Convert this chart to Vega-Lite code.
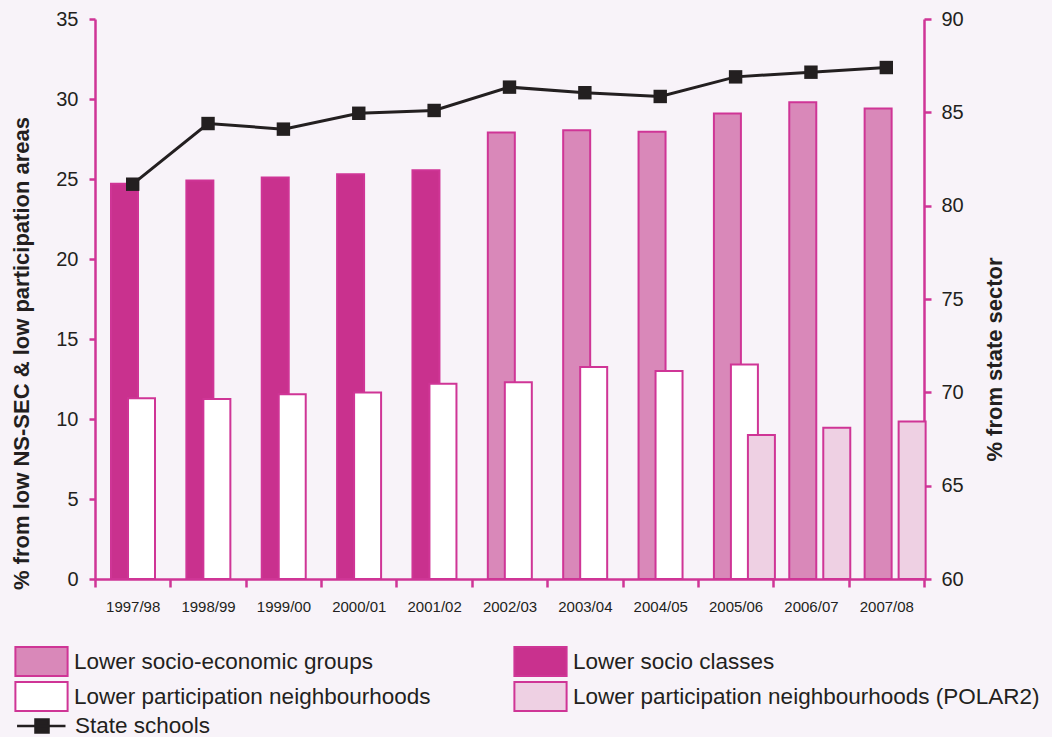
{
  "$schema": "https://vega.github.io/schema/vega-lite/v6.json",
  "autosize": "none",
  "width": 829,
  "height": 560,
  "padding": {"left": 95, "top": 19, "right": 128, "bottom": 158},
  "background": "#f8f3f9",
  "config": {
    "view": {"stroke": null},
    "font": "Liberation Sans",
    "axis": {"grid": false, "domainColor": "#cf3596", "domainWidth": 2.5, "tickColor": "#cf3596", "tickWidth": 2.5, "labelColor": "#231f20", "titleColor": "#231f20", "labelFont": "Liberation Sans", "titleFont": "Liberation Sans"},
    "legend": {"labelFont": "Liberation Sans", "labelColor": "#231f20", "padding": 0}
  },
  "datasets": {
    "bars": [
      {"year": "1997/98", "bar_series": "Lower socio classes", "measure": "NS-SEC", "value": 24.7},
      {"year": "1998/99", "bar_series": "Lower socio classes", "measure": "NS-SEC", "value": 24.9},
      {"year": "1999/00", "bar_series": "Lower socio classes", "measure": "NS-SEC", "value": 25.1},
      {"year": "2000/01", "bar_series": "Lower socio classes", "measure": "NS-SEC", "value": 25.3},
      {"year": "2001/02", "bar_series": "Lower socio classes", "measure": "NS-SEC", "value": 25.55},
      {"year": "2002/03", "bar_series": "Lower socio-economic groups", "measure": "NS-SEC", "value": 27.9},
      {"year": "2003/04", "bar_series": "Lower socio-economic groups", "measure": "NS-SEC", "value": 28.05},
      {"year": "2004/05", "bar_series": "Lower socio-economic groups", "measure": "NS-SEC", "value": 27.95},
      {"year": "2005/06", "bar_series": "Lower socio-economic groups", "measure": "NS-SEC", "value": 29.1},
      {"year": "2006/07", "bar_series": "Lower socio-economic groups", "measure": "NS-SEC", "value": 29.8},
      {"year": "2007/08", "bar_series": "Lower socio-economic groups", "measure": "NS-SEC", "value": 29.4},
      {"year": "1997/98", "bar_series": "Lower participation neighbourhoods", "measure": "LPN", "value": 11.3},
      {"year": "1998/99", "bar_series": "Lower participation neighbourhoods", "measure": "LPN", "value": 11.25},
      {"year": "1999/00", "bar_series": "Lower participation neighbourhoods", "measure": "LPN", "value": 11.55},
      {"year": "2000/01", "bar_series": "Lower participation neighbourhoods", "measure": "LPN", "value": 11.65},
      {"year": "2001/02", "bar_series": "Lower participation neighbourhoods", "measure": "LPN", "value": 12.2},
      {"year": "2002/03", "bar_series": "Lower participation neighbourhoods", "measure": "LPN", "value": 12.3},
      {"year": "2003/04", "bar_series": "Lower participation neighbourhoods", "measure": "LPN", "value": 13.25},
      {"year": "2004/05", "bar_series": "Lower participation neighbourhoods", "measure": "LPN", "value": 13.0},
      {"year": "2005/06", "bar_series": "Lower participation neighbourhoods", "measure": "LPN", "value": 13.4},
      {"year": "2005/06", "bar_series": "Lower participation neighbourhoods (POLAR2)", "measure": "POLAR2", "value": 9.0},
      {"year": "2006/07", "bar_series": "Lower participation neighbourhoods (POLAR2)", "measure": "POLAR2", "value": 9.45},
      {"year": "2007/08", "bar_series": "Lower participation neighbourhoods (POLAR2)", "measure": "POLAR2", "value": 9.85}
    ],
    "state": [
      {"year": "1997/98", "line_series": "State schools", "value": 81.15},
      {"year": "1998/99", "line_series": "State schools", "value": 84.4},
      {"year": "1999/00", "line_series": "State schools", "value": 84.1},
      {"year": "2000/01", "line_series": "State schools", "value": 84.95},
      {"year": "2001/02", "line_series": "State schools", "value": 85.1},
      {"year": "2002/03", "line_series": "State schools", "value": 86.35},
      {"year": "2003/04", "line_series": "State schools", "value": 86.05},
      {"year": "2004/05", "line_series": "State schools", "value": 85.85},
      {"year": "2005/06", "line_series": "State schools", "value": 86.9},
      {"year": "2006/07", "line_series": "State schools", "value": 87.15},
      {"year": "2007/08", "line_series": "State schools", "value": 87.4}
    ]
  },
  "encoding": {
    "x": {
      "field": "year", "type": "nominal", "sort": null,
      "scale": {"paddingInner": 0, "paddingOuter": 0},
      "axis": {"title": null, "labelAngle": 0, "labelFontSize": 15, "tickBand": "extent", "tickSize": 8, "labelPadding": 12, "domainWidth": 2.5}
    }
  },
  "layer": [
    {
      "data": {"name": "bars"},
      "mark": {"type": "bar", "width": 27, "stroke": "#cf3596", "strokeWidth": 2},
      "encoding": {
        "xOffset": {"field": "measure", "type": "nominal", "scale": {"domain": ["NS-SEC", "LPN", "POLAR2"], "range": [21, 72], "paddingInner": 0, "paddingOuter": 0}},
        "y": {
          "field": "value", "type": "quantitative",
          "scale": {"domain": [0, 35], "nice": false, "zero": true},
          "axis": {"orient": "left", "values": [0, 5, 10, 15, 20, 25, 30, 35], "title": "% from low NS-SEC & low participation areas", "titleFontSize": 22, "titleFontWeight": "bold", "labelFontSize": 20, "tickSize": 6, "labelPadding": 11, "titleX": -62, "titleY": 334, "titleAngle": -90}
        },
        "fill": {
          "field": "bar_series", "type": "nominal",
          "scale": {"domain": ["Lower socio-economic groups", "Lower participation neighbourhoods", "Lower socio classes", "Lower participation neighbourhoods (POLAR2)"], "range": ["#d988b9", "#ffffff", "#c9318e", "#eed0e3"]},
          "legend": {"title": null, "orient": "none", "legendX": -69, "legendY": 627, "columns": 2, "columnPadding": 79, "rowPadding": -2, "symbolType": "M-1.8,-1H1.8V1H-1.8Z", "symbolSize": 841, "symbolStrokeColor": "#cf3596", "symbolStrokeWidth": 2, "symbolOpacity": 1, "labelFontSize": 22.5, "labelOffset": 17, "labelLimit": 600}
        }
      }
    },
    {
      "data": {"name": "state"},
      "layer": [
        {
          "mark": {"type": "line", "strokeWidth": 3},
          "encoding": {
            "y": {
              "field": "value", "type": "quantitative",
              "scale": {"domain": [60, 90], "nice": false, "zero": false},
              "axis": {"orient": "right", "values": [60, 65, 70, 75, 80, 85, 90], "title": "% from state sector", "titleFontSize": 22, "titleFontWeight": "bold", "labelFontSize": 20, "tickSize": 7, "labelPadding": 10, "titleAngle": -90, "titleX": 82, "titleY": 340}
            },
            "stroke": {
              "field": "line_series", "type": "nominal",
              "scale": {"domain": ["State schools"], "range": ["#231f20"]},
              "legend": {"title": null, "orient": "none", "legendX": -69, "legendY": 691, "symbolType": "M-1.72,0H1.62M-0.45,-0.45H0.45V0.45H-0.45Z", "symbolSize": 841, "symbolFillColor": "#231f20", "symbolStrokeWidth": 2.5, "labelFontSize": 22.5, "labelOffset": 17}
            }
          }
        },
        {
          "mark": {"type": "point", "shape": "square", "size": 180, "filled": true, "color": "#231f20", "opacity": 1},
          "encoding": {
            "y": {"field": "value", "type": "quantitative"}
          }
        }
      ]
    }
  ],
  "resolve": {"scale": {"y": "independent"}}
}
